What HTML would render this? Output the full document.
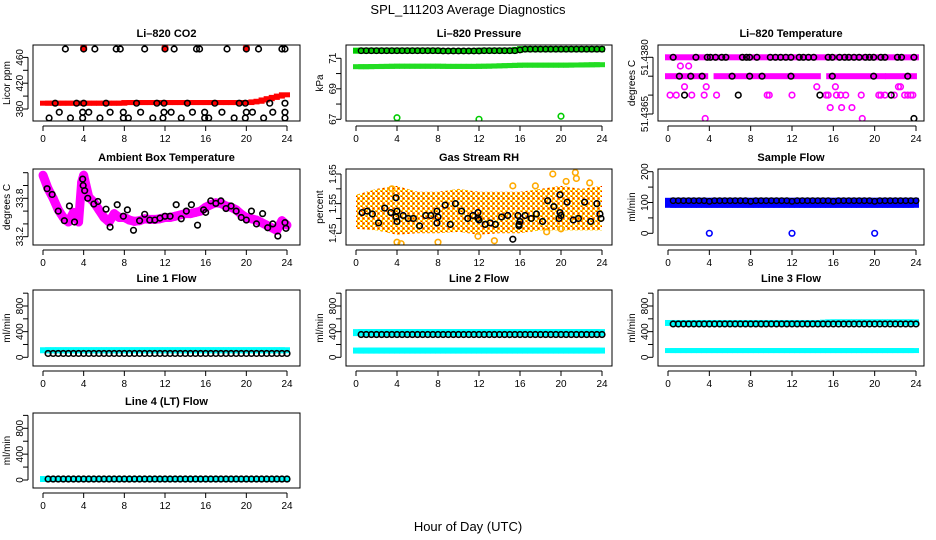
<!DOCTYPE html>
<html><head><meta charset="utf-8"><style>
html,body{margin:0;padding:0;background:#fff}
svg{display:block;font-family:"Liberation Sans",sans-serif}
</style></head><body>
<svg id="c" width="936" height="540" xmlns="http://www.w3.org/2000/svg">
<text x="468" y="14" text-anchor="middle" font-size="13">SPL_111203  Average Diagnostics</text>
<text x="468" y="531" text-anchor="middle" font-size="13">Hour of Day (UTC)</text>
</svg>
<script>
// ---- data ----
const xTicks=[0,4,8,12,16,20,24];
const halfHours=[0.5,1,1.5,2,2.5,3,3.5,4,4.5,5,5.5,6,6.5,7,7.5,8,8.5,9,9.5,10,10.5,11,11.5,12,12.5,13,13.5,14,14.5,15,15.5,16,16.5,17,17.5,18,18.5,19,19.5,20,20.5,21,21.5,22,22.5,23,23.5,24];
// CO2
const co2Red=[389,389,389,389,389,389,389,389,389,389,389,389,389,389,389,389,390,390,390,390,390,390,390,390,390,390,390,390,390,390,390,390,390,390,390,390,390,390,390,390,390,391,392,394,396,398,400,402];
const co2RedHigh=[[4,472],[12,472],[20,472]];
const co2BlackH=[2.2,4,5.1,7.2,7.6,10,12,12.9,15.1,15.4,18.1,20,21.2,23.5,23.8,1.2,3.3,4,6.2,9.2,11.2,11.9,14.2,16.9,19.3,19.9,22.3,23.8,1.6,3.9,4.5,6.6,7.9,9.6,11.9,12.6,14.7,15.9,17.6,20,20.6,22.6,23.8,0.6,2.7,3.9,5.6,7.9,8.4,10.8,11.8,13.6,15.9,16.3,18.8,19.9,21.7,23.8];
const co2BlackV=[473,473,473,473,473,473,473,473,473,473,473,473,473,473,473,389,389,389,389,389,389,389,389,389,389,389,389,389,375,375,375,375,375,375,375,375,375,375,375,375,375,375,375,366,366,366,366,366,366,366,366,366,366,366,366,366,366,366];
// Pressure
const presUpper=[71.5,71.5,71.5,71.5,71.5,71.5,71.5,71.5,71.5,71.5,71.5,71.5,71.5,71.5,71.5,71.5,71.48,71.48,71.48,71.48,71.48,71.48,71.48,71.48,71.5,71.5,71.5,71.5,71.5,71.5,71.5,71.55,71.6,71.6,71.6,71.6,71.6,71.6,71.6,71.6,71.6,71.6,71.6,71.6,71.6,71.6,71.6,71.6];
const presLower=[70.45,70.45,70.45,70.46,70.46,70.47,70.47,70.48,70.48,70.48,70.48,70.48,70.48,70.48,70.48,70.48,70.48,70.47,70.47,70.47,70.47,70.47,70.47,70.47,70.48,70.48,70.49,70.5,70.51,70.52,70.53,70.54,70.55,70.55,70.55,70.55,70.55,70.55,70.55,70.55,70.55,70.55,70.56,70.56,70.57,70.57,70.58,70.58];
const presOutH=[4,12,20], presOutV=[67.1,67.0,67.2];
// Li-820 temperature
const tempBandH=[[0,24],[0,3.6],[4.7,14.5],[15.6,20.8],[21.3,23.8]];
const tempBandV=[51.4380,51.4375,51.4375,51.4375,51.4375];
const tempMagH=[0.2,0.8,1.2,2,1.6,2.3,3.5,3.6,3.7,4.7,5.1,9.6,9.8,12,14.4,15.3,15.5,15.7,16.2,16.3,16.7,16.8,17.2,17.8,18.7,18.8,20.4,20.6,21,21.9,22.3,22.5,22.9,23.2,23.5,23.7];
const tempMagV=[51.4370,51.4370,51.43777,51.43777,51.43722,51.4370,51.4370,51.43638,51.43722,51.4370,51.43842,51.4370,51.4370,51.4370,51.43722,51.4370,51.4370,51.43667,51.43722,51.4370,51.4370,51.43667,51.4370,51.43667,51.4370,51.43638,51.4370,51.4370,51.4370,51.4370,51.43722,51.43722,51.4370,51.4370,51.4370,51.4370];
const tempBlkH=[0.5,2.7,3.8,4.1,4.6,5.2,5.6,7.2,7.6,7.9,8.6,9.9,10.4,10.9,11.4,11.9,12.7,13.1,13.6,14.1,15.5,15.9,16.6,17.1,17.5,18,18.5,19.1,19.5,19.9,20.6,21,22.2,22.6,23.8,1.1,2.2,3.3,6.2,7.9,9.1,11.9,15.9,19.9,23.2,1.6,6.8,14.7,21.6,23.8];
const tempBlkV=[51.4380,51.4380,51.4380,51.4380,51.4380,51.4380,51.4380,51.4380,51.4380,51.4380,51.4380,51.4380,51.4380,51.4380,51.4380,51.4380,51.4380,51.4380,51.4380,51.4380,51.4380,51.4380,51.4380,51.4380,51.4380,51.4380,51.4380,51.4380,51.4380,51.4380,51.4380,51.4380,51.4380,51.4380,51.4380,51.4375,51.4375,51.4375,51.4375,51.4375,51.4375,51.4375,51.4375,51.4375,51.4375,51.4370,51.4370,51.4370,51.4370,51.43638];
// Ambient box temperature
const ambH=[0,0.5,1,1.5,2,2.5,3,3.5,3.8,4,4.5,5,5.5,6,6.5,7,7.5,8,8.5,9,9.5,10,10.5,11,11.5,12,12.5,13,13.5,14,14.5,15,15.5,16,16.5,17,17.5,18,18.5,19,19.5,20,20.5,21,21.5,22,22.5,23,23.5,24];
const ambV=[34.16,33.95,33.8,33.62,33.5,33.43,33.58,33.43,34.05,34.16,33.82,33.74,33.62,33.5,33.43,33.56,33.5,33.5,33.46,33.44,33.45,33.48,33.47,33.47,33.48,33.5,33.5,33.52,33.54,33.56,33.56,33.58,33.6,33.66,33.7,33.73,33.72,33.68,33.66,33.62,33.55,33.5,33.48,33.46,33.42,33.38,33.34,33.3,33.45,33.38];
const ambBlkH=[0.4,0.9,1.5,2.1,2.6,3.1,3.9,3.95,4.1,4.4,5,5.4,6.2,6.6,7.3,7.9,8.3,8.9,9.5,10,10.5,11,11.5,12,12.5,13.1,13.6,14.1,14.6,15.2,15.8,16,16.5,17,17.5,18,18.5,19,19.5,20,20.5,21,21.6,22.1,22.6,23.1,23.8,23.9];
const ambBlkV=[33.95,33.86,33.6,33.45,33.68,33.43,34.1,34.0,33.92,33.8,33.71,33.75,33.63,33.35,33.7,33.52,33.62,33.3,33.45,33.55,33.46,33.46,33.49,33.52,33.52,33.7,33.48,33.6,33.7,33.38,33.62,33.58,33.76,33.72,33.76,33.64,33.68,33.6,33.5,33.46,33.6,33.4,33.56,33.34,33.4,33.21,33.42,33.33];
// Gas stream RH
const rhBandH=[0,2,4,6,8,10,12,14,16,18,20,22,24];
const rhLow=[1.465,1.46,1.445,1.45,1.45,1.455,1.445,1.45,1.45,1.46,1.46,1.46,1.46];
const rhHigh=[1.58,1.60,1.61,1.59,1.59,1.60,1.59,1.59,1.59,1.60,1.61,1.60,1.61];
const rhOutH=[4,4.4,8,11.9,13.5,18.6,19.2,20,21.4,21.5,22.8,20.5,3.5,15.3,17.5];
const rhOutV=[1.42,1.415,1.42,1.44,1.425,1.455,1.65,1.465,1.655,1.635,1.62,1.625,1.6,1.61,1.61];
const rhBlkH=[0.6,1.1,1.6,2.2,2.8,3.4,3.9,3.9,4,4,4.6,5.1,5.6,6.2,6.8,7.3,7.9,7.9,8,8.7,9.2,9.7,10.3,10.9,11.4,11.9,11.9,12,12.6,13.1,13.6,14.2,14.8,15.3,15.8,15.9,15.9,16,16.5,17.1,17.6,18.2,18.7,19.3,19.8,19.9,19.9,20,20.6,21.2,21.7,22.3,22.9,23.5,23.8,23.9];
const rhBlkV=[1.52,1.525,1.515,1.485,1.535,1.52,1.505,1.57,1.525,1.49,1.51,1.5,1.5,1.475,1.51,1.51,1.525,1.485,1.505,1.545,1.48,1.55,1.525,1.5,1.51,1.52,1.5,1.495,1.48,1.485,1.48,1.505,1.51,1.43,1.51,1.48,1.475,1.49,1.51,1.5,1.515,1.49,1.56,1.54,1.5,1.52,1.58,1.51,1.555,1.495,1.5,1.555,1.49,1.55,1.515,1.5];
// Sample flow
const sfBandLow=[86,86,86,86,86,86,86,86,86,86,86,86,86,86,86,86,86,86,86,86,86,86,86,86,86,86,86,86,86,86,86,86,86,86,86,86,86,86,86,86,86,86,86,86,86,86,86,86];
const sfBandHigh=[112,112,112,112,112,112,112,112,112,112,112,112,112,112,112,112,112,112,112,112,112,112,112,112,112,112,112,112,112,112,112,112,112,112,112,112,112,112,112,112,112,112,112,112,112,112,112,112];
const sfBlk=[106,106,106,106,106,106,106,104,106,106,106,106,106,106,106,104,106,106,106,106,106,106,106,104,106,106,106,106,106,106,106,104,106,106,106,106,106,106,106,104,106,106,106,106,106,106,106,106];
const sfOutH=[4,12,20], sfOutV=[0,0,0];
// Line flows
const l1Cyan=[110,110,110,110,110,110,110,110,110,110,110,110,110,110,110,110,110,110,110,110,110,110,110,110,110,110,110,110,110,110,110,110,110,110,110,110,110,110,110,110,110,110,110,110,110,110,110,110];
const l1Blk=[60,60,60,60,60,60,60,60,60,60,60,60,60,60,60,60,60,60,60,60,60,60,60,60,60,60,60,60,60,60,60,60,60,60,60,60,60,60,60,60,60,60,60,60,60,60,60,60];
const l2CyanA=[385,385,385,385,385,385,385,385,385,385,385,385,385,385,385,385,385,385,385,385,385,385,385,385,385,385,385,385,385,385,385,385,385,385,385,385,385,385,385,385,385,385,385,385,385,385,385,385];
const l2CyanB=[105,105,105,105,105,105,105,105,105,105,105,105,105,105,105,105,105,105,105,105,105,105,105,105,105,105,105,105,105,105,105,105,105,105,105,105,105,105,105,105,105,105,105,105,105,105,105,105];
const l2Blk=[355,355,355,355,355,355,355,355,355,355,355,355,355,355,355,355,355,355,355,355,355,355,355,355,355,355,355,355,355,355,355,355,355,355,355,355,355,355,355,355,355,355,355,355,355,355,355,355];
const l3CyanA=[535,535,535,535,535,535,535,535,535,535,535,535,535,535,535,535,535,535,535,535,535,535,535,535,535,535,535,535,535,535,540,545,545,545,545,545,545,545,545,545,545,545,545,545,545,545,545,545];
const l3CyanB=[105,105,105,105,105,105,105,105,105,105,105,105,105,105,105,105,105,105,105,105,105,105,105,105,105,105,105,105,105,105,105,105,105,105,105,105,105,105,105,105,105,105,105,105,105,105,105,105];
const l3Blk=[520,520,520,520,520,520,520,520,520,520,520,520,520,520,520,520,520,520,520,520,520,520,520,520,520,520,520,520,520,520,520,520,520,520,520,520,520,520,520,520,520,520,520,520,520,520,520,520];
const l4Cyan=[15,15,15,15,15,15,15,15,15,15,15,15,15,15,15,15,15,15,15,15,15,15,15,15,15,15,15,15,15,15,15,15,15,15,15,15,15,15,15,15,15,15,15,15,15,15,15,15];
const l4Blk=[15,15,15,15,15,15,15,15,15,15,15,15,15,15,15,15,15,15,15,15,15,15,15,15,15,15,15,15,15,15,15,15,15,15,15,15,15,15,15,15,15,15,15,15,15,15,15,15];

// ---- drawing ----
const NS="http://www.w3.org/2000/svg";
const svg=document.getElementById('c');
function mk(tag,attrs,parent){const e=document.createElementNS(NS,tag);for(const k in attrs)e.setAttribute(k,attrs[k]);(parent||svg).appendChild(e);return e;}
const cols=[{L:33,R:300,x0:43,x1:287},{L:346,R:612,x0:356,x1:602},{L:658,R:924,x0:668,x1:916}];
const rows=[{T:45,B:121},{T:169,B:245},{T:290,B:366},{T:413,B:488}];

function panel(name,title,ylab,c,r,v1,y1,v2,y2,yticks,ylabels){
  const C=cols[c],R=rows[r];
  const g=mk('g',{});
  
  
  const sx=h=>C.x0+(C.x1-C.x0)*h/24;
  const sy=v=>y1+(v-v1)*(y2-y1)/(v2-v1);
  const t=mk('text',{x:(C.L+C.R)/2,y:R.T-8,'text-anchor':'middle','font-size':11,'font-weight':'bold'},g);
  t.textContent=title;
  
  
  const plot=mk('g',{},g);
  
  
  const clip=mk('clipPath',{id:'cp'+name},g);
  mk('rect',{x:C.L,y:R.T,width:C.R-C.L,height:R.B-R.T},clip);
  plot.setAttribute('clip-path','url(#cp'+name+')');
  const box=mk('rect',{x:C.L,y:R.T,width:C.R-C.L,height:R.B-R.T,fill:'none',stroke:'#000','stroke-width':1},g);
  
  
  const xa=mk('g',{},g);
  
  
  mk('line',{x1:sx(0),x2:sx(24),y1:R.B+5,y2:R.B+5,stroke:'#000'},xa);
  xTicks.forEach(h=>{
    mk('line',{x1:sx(h),x2:sx(h),y1:R.B+5,y2:R.B+10,stroke:'#000'},xa);
    const l=mk('text',{x:sx(h),y:R.B+21,'text-anchor':'middle','font-size':10},xa);
    l.textContent=h;
    
    
  });
  const ya=mk('g',{},g);
  
  
  mk('line',{x1:C.L-5,x2:C.L-5,y1:sy(yticks[0]),y2:sy(yticks[yticks.length-1]),stroke:'#000'},ya);
  yticks.forEach((v,i)=>{
    mk('line',{x1:C.L-10,x2:C.L-5,y1:sy(v),y2:sy(v),stroke:'#000'},ya);
    if(ylabels[i]){
      const x=C.L-10,y=sy(v);
      const l=mk('text',{x:x,y:y,'text-anchor':'middle','font-size':10,transform:`rotate(-90 ${x} ${y})`},ya);
      l.textContent=ylabels[i];
      
      
    }
  });
  const yx=C.L-23,yy=(R.T+R.B)/2;
  const yt=mk('text',{x:yx,y:yy,'text-anchor':'middle','font-size':10,transform:`rotate(-90 ${yx} ${yy})`},g);
  yt.textContent=ylab;
  
  
  return {sx,sy,g:plot};
}
function circ(p,x,y,col,sw){const e=mk('circle',{cx:x,cy:y,r:2.8,fill:'none',stroke:col,'stroke-width':sw||1.6},p.g);
  
  return e;}
function band(p,vals,col,hpx){
  vals.forEach((v,i)=>{const h0=i===0?0:halfHours[i-1],h1=halfHours[i];
    const e=mk('rect',{x:p.sx(h0)-3,y:p.sy(v)-hpx/2,width:p.sx(h1)-p.sx(h0)+6,height:hpx,fill:col},p.g);
    
    });
}
function bandLH(p,lo,hi,col){
  lo.forEach((v,i)=>{const h0=i===0?0:halfHours[i-1],h1=halfHours[i];
    const e=mk('rect',{x:p.sx(h0)-3,y:p.sy(hi[i])-1,width:p.sx(h1)-p.sx(h0)+6,height:p.sy(v)-p.sy(hi[i])+2,fill:col},p.g);
    
    });
}

// CO2
let p=panel('co2','Li\u2013820 CO2','Licor ppm',0,0,380,109,460,57.4,[380,400,420,440,460],['380','','420','','460']);
band(p,co2Red,'#f00',5);
co2RedHigh.forEach(d=>{mk('circle',{cx:p.sx(d[0]),cy:p.sy(d[1])-2,r:3.5,fill:'#f00'},p.g);});
co2BlackH.forEach((h,i)=>circ(p,p.sx(h),p.sy(co2BlackV[i]),'#000'));

// Pressure
p=panel('pressure','Li\u2013820 Pressure','kPa',1,0,67,119.3,71,58.3,[67,68,69,70,71],['67','','69','','71']);
band(p,presUpper,'#0c0',6);band(p,presLower,'#2d2',5);
presOutH.forEach((h,i)=>circ(p,p.sx(h),p.sy(presOutV[i]),'#0c0'));
halfHours.forEach((h,i)=>circ(p,p.sx(h),p.sy(presUpper[i]),'#000',1.3));

// Li-820 temperature
p=panel('li820-temp','Li\u2013820 Temperature','degrees C',2,0,51.4365,114,51.4380,57.3,[51.4365,51.4370,51.4375,51.4380],['51.4365','','','51.4380']);
tempBandH.forEach((hh,i)=>{const e=mk('rect',{x:p.sx(hh[0])-3,y:p.sy(tempBandV[i])-3,width:p.sx(hh[1])-p.sx(hh[0])+6,height:6,fill:'#f0f'},p.g);
  
  });
tempMagH.forEach((h,i)=>circ(p,p.sx(h),p.sy(tempMagV[i]),'#f0f'));
tempBlkH.forEach((h,i)=>circ(p,p.sx(h),p.sy(tempBlkV[i]),'#000'));

// Ambient
p=panel('ambient-temp','Ambient Box Temperature','degrees C',0,1,33.2,236.7,33.8,198.3,[33.2,33.4,33.6,33.8,34.0,34.2],['33.2','','','33.8','','']);
ambH.forEach((h,i)=>{if(i===0)return;
  const e=mk('line',{x1:p.sx(ambH[i-1]),y1:p.sy(ambV[i-1]),x2:p.sx(h),y2:p.sy(ambV[i]),stroke:'#f0f','stroke-width':9,'stroke-linecap':'round'},p.g);
  
  });
ambBlkH.forEach((h,i)=>circ(p,p.sx(h),p.sy(ambBlkV[i]),'#000'));

// RH
p=panel('gas-rh','Gas Stream RH','percent',1,1,1.45,233.3,1.65,174,[1.45,1.50,1.55,1.60,1.65],['1.45','','1.55','','1.65']);
const defs=mk('defs',{});
const pat=mk('pattern',{id:'rhpat',width:5,height:5,patternUnits:'userSpaceOnUse'},defs);
mk('rect',{width:5,height:5,fill:'#fff'},pat);
mk('rect',{x:0,y:0,width:3,height:2,fill:'#fc0'},pat);mk('rect',{x:2,y:2,width:3,height:3,fill:'#fa0'},pat);
mk('rect',{x:1,y:1,width:1,height:1,fill:'#f00'},pat);mk('rect',{x:3,y:3,width:1,height:1,fill:'#f00'},pat);
let pts=rhBandH.map((h,i)=>p.sx(h)+','+p.sy(rhHigh[i])).concat(rhBandH.slice().reverse().map((h,j)=>{const i=rhBandH.length-1-j;return p.sx(h)+','+p.sy(rhLow[i]);}));
const poly=mk('polygon',{points:pts.join(' '),fill:'url(#rhpat)'},p.g);


rhOutH.forEach((h,i)=>circ(p,p.sx(h),p.sy(rhOutV[i]),'#fa0'));
rhBlkH.forEach((h,i)=>circ(p,p.sx(h),p.sy(rhBlkV[i]),'#000'));

// Sample flow
p=panel('sample-flow','Sample Flow','ml/min',2,1,0,233.3,200,171.7,[0,50,100,150,200],['0','','100','','200']);
bandLH(p,sfBandLow,sfBandHigh,'#00f');
sfOutH.forEach((h,i)=>circ(p,p.sx(h),p.sy(sfOutV[i]),'#00f'));
halfHours.forEach((h,i)=>circ(p,p.sx(h),p.sy(sfBlk[i]),'#000',1.3));

const flowTicks=[0,200,400,600,800,1000],flowLabels=['0','','400','','800',''];
p=panel('line1-flow','Line 1 Flow','ml/min',0,2,0,357.3,800,306,flowTicks,flowLabels);
band(p,l1Cyan,'#0ff',6);
halfHours.forEach((h,i)=>circ(p,p.sx(h),p.sy(l1Blk[i]),'#000'));
p=panel('line2-flow','Line 2 Flow','ml/min',1,2,0,357.3,800,306,flowTicks,flowLabels);
band(p,l2CyanA,'#0ff',7);band(p,l2CyanB,'#0ff',6);
halfHours.forEach((h,i)=>circ(p,p.sx(h),p.sy(l2Blk[i]),'#000'));
p=panel('line3-flow','Line 3 Flow','ml/min',2,2,0,357.3,800,306,flowTicks,flowLabels);
band(p,l3CyanA,'#0ff',6);band(p,l3CyanB,'#0ff',5);
halfHours.forEach((h,i)=>circ(p,p.sx(h),p.sy(l3Blk[i]),'#000'));
p=panel('line4-flow','Line 4 (LT) Flow','ml/min',0,3,0,480,800,428.3,flowTicks,flowLabels);
band(p,l4Cyan,'#0ff',6);
halfHours.forEach((h,i)=>circ(p,p.sx(h),p.sy(l4Blk[i]),'#000'));
</script>
</body></html>
